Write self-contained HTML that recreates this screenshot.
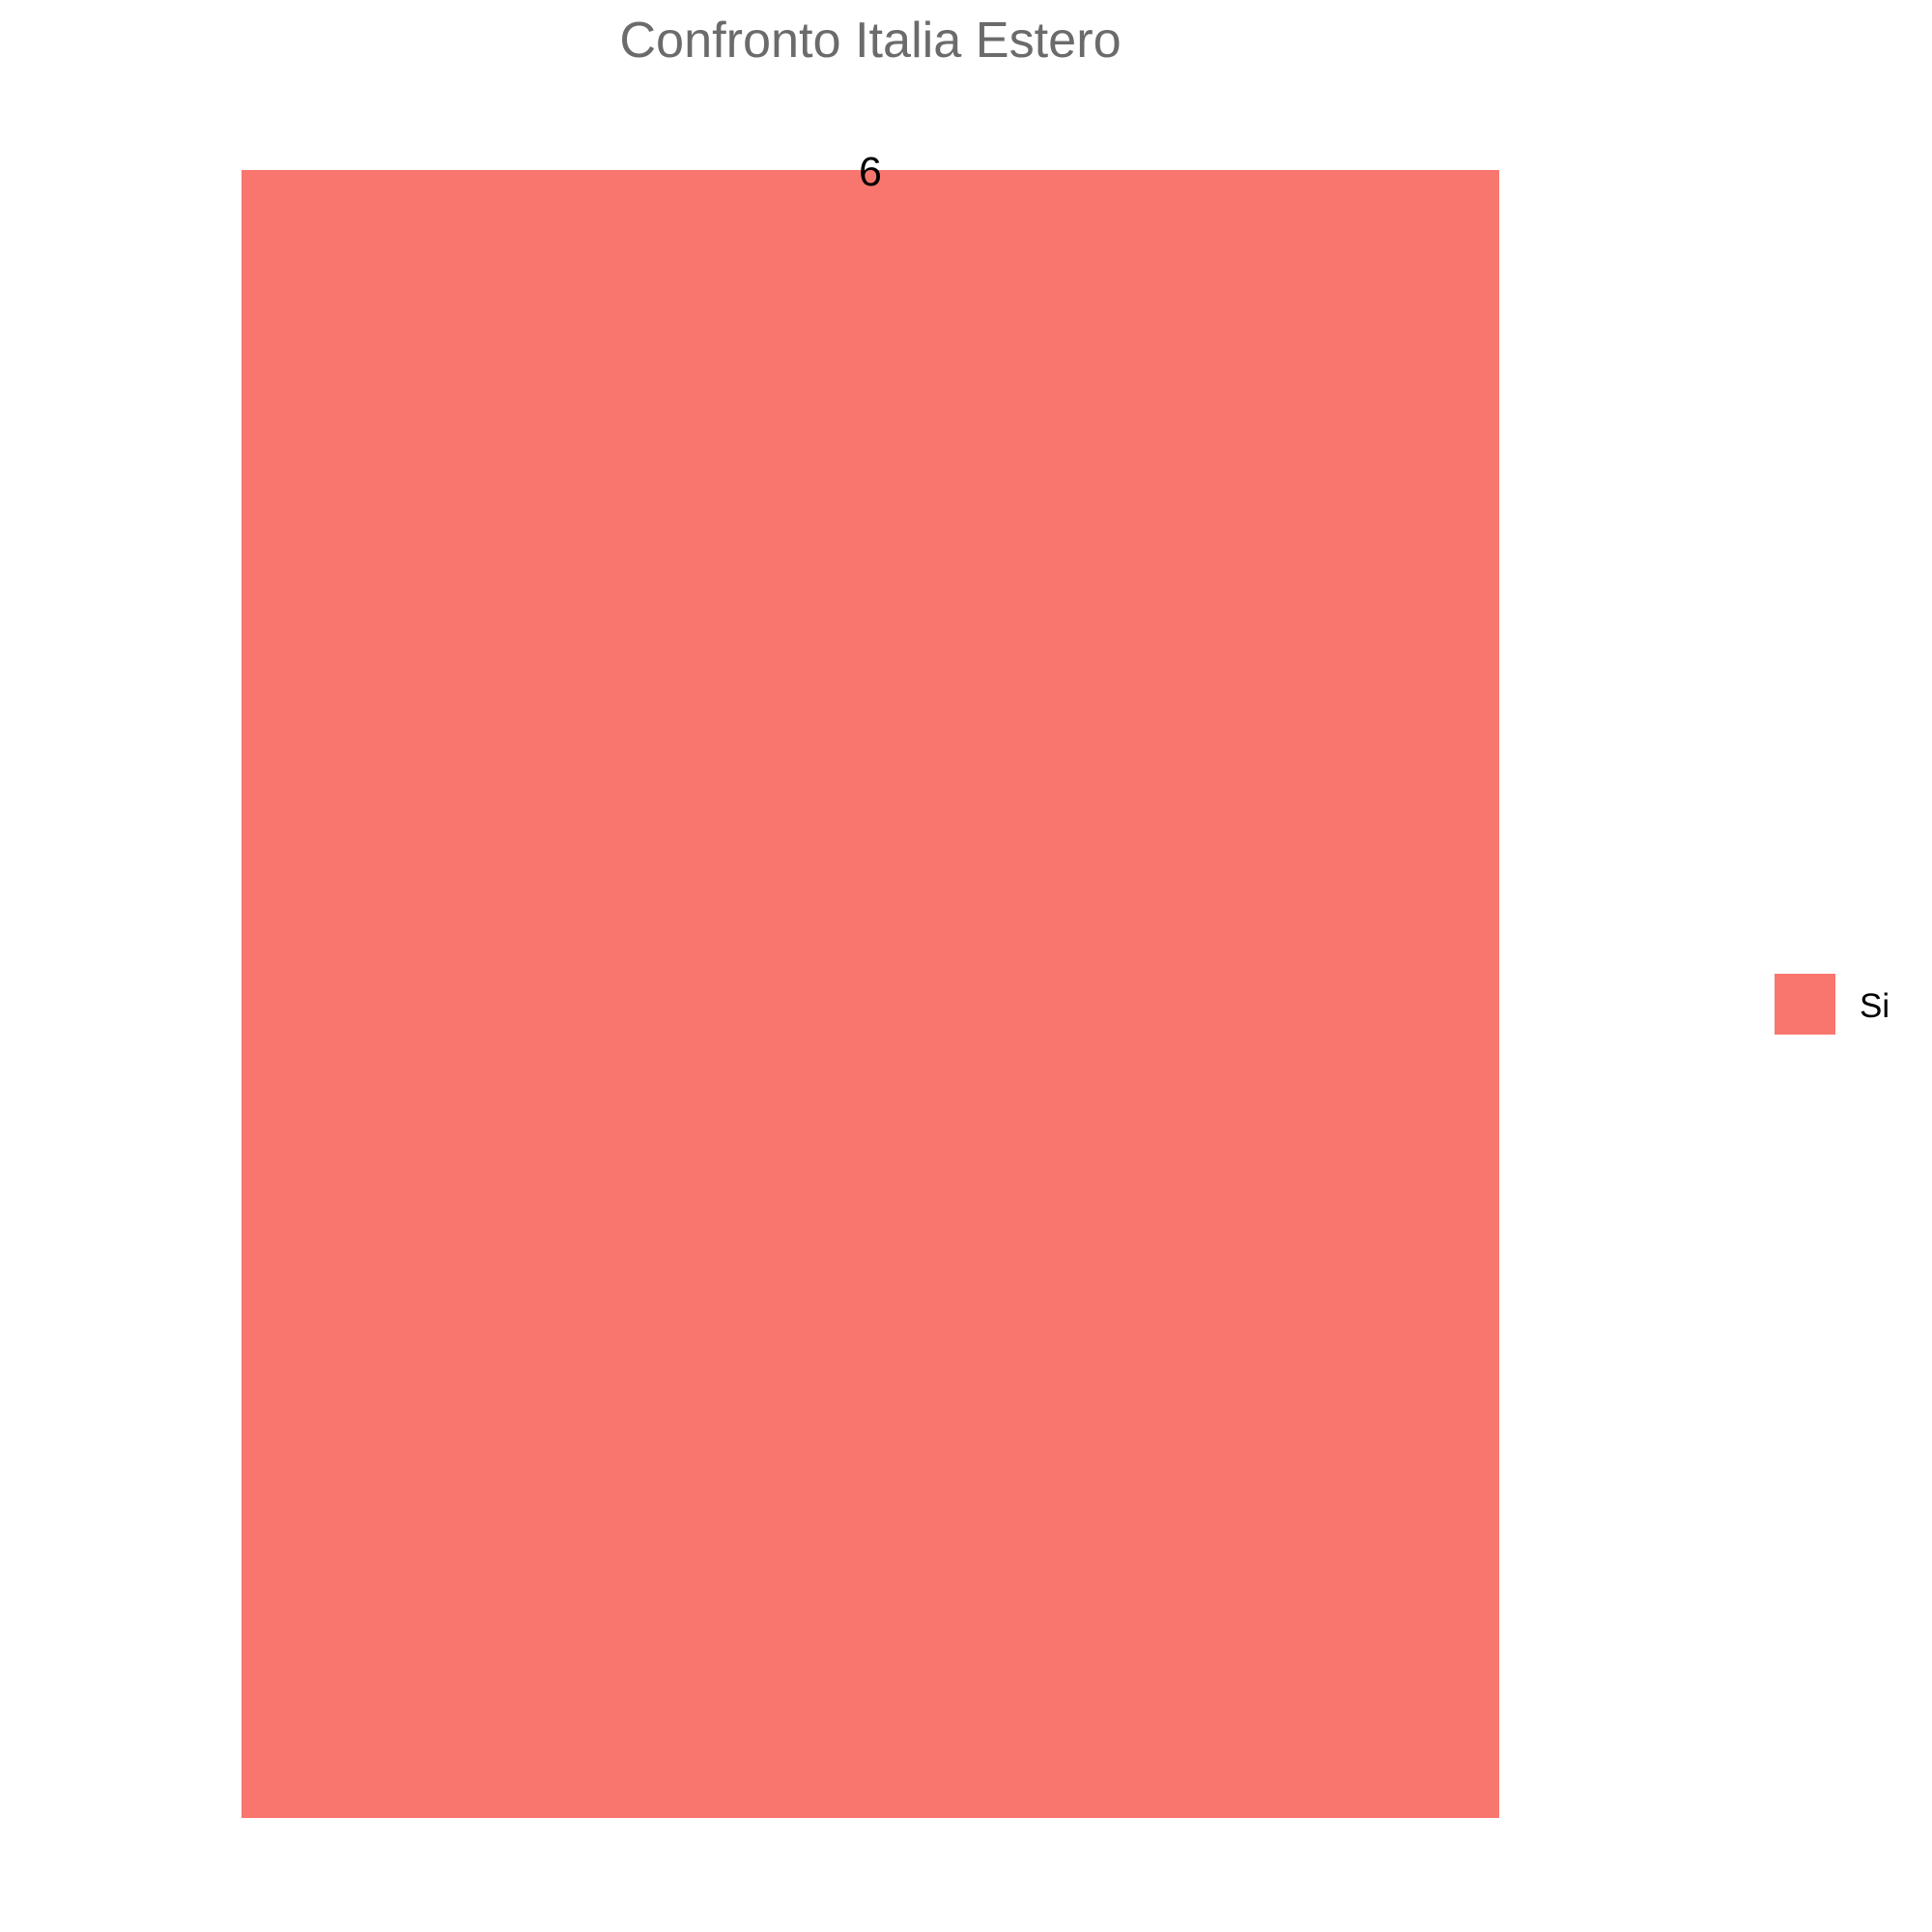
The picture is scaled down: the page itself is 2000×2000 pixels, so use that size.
<!DOCTYPE html>
<html lang="it">
<head>
<meta charset="utf-8">
<title>Confronto Italia Estero</title>
<style>
  html, body { margin: 0; padding: 0; background: #ffffff; }
  #chart { display: block; width: 2000px; height: 2000px; }
  text { font-family: "Liberation Sans", Arial, Helvetica, sans-serif; }
</style>
</head>
<body>
<svg id="chart" xmlns="http://www.w3.org/2000/svg" width="2000" height="2000" viewBox="0 0 2000 2000">
  <rect x="0" y="0" width="2000" height="2000" fill="#ffffff"/>
  <text id="title" x="901" y="59" font-size="52.2" fill="#6b6b6b" text-anchor="middle">Confronto Italia Estero</text>
  <g id="bars"></g>
  <g id="labels"></g>
  <g id="legend"></g>
</svg>
<script>
const categories = ["Si"];
const seriesValues = [6];
const valueLabels = ["6"];

const NS = "http://www.w3.org/2000/svg";
const plot = { left: 250, right: 1552, top: 176, bottom: 1882 };
const barColor = "#f8766d";
const yMax = Math.max.apply(null, seriesValues);

function yScale(v) {
  return plot.bottom - (v / yMax) * (plot.bottom - plot.top);
}
function bandLeft(i) {
  return plot.left + i * (plot.right - plot.left) / categories.length;
}
function bandWidth() {
  return (plot.right - plot.left) / categories.length;
}

const barsGroup = document.getElementById("bars");
const labelsGroup = document.getElementById("labels");
const legendGroup = document.getElementById("legend");

categories.forEach(function (cat, i) {
  const rect = document.createElementNS(NS, "rect");
  
  
  rect.setAttribute("x", bandLeft(i));
  rect.setAttribute("y", yScale(seriesValues[i]));
  rect.setAttribute("width", bandWidth());
  rect.setAttribute("height", yScale(0) - yScale(seriesValues[i]));
  rect.setAttribute("fill", barColor);
  barsGroup.appendChild(rect);

  const label = document.createElementNS(NS, "text");
  
  
  label.setAttribute("x", bandLeft(i) + bandWidth() / 2);
  label.setAttribute("y", yScale(seriesValues[i]) + 16);
  label.setAttribute("font-size", "43");
  label.setAttribute("fill", "#000000");
  label.setAttribute("text-anchor", "middle");
  label.textContent = valueLabels[i];
  labelsGroup.appendChild(label);

  const swatch = document.createElementNS(NS, "rect");
  
  
  swatch.setAttribute("x", 1837);
  swatch.setAttribute("y", 1008 + i * 63);
  swatch.setAttribute("width", 63);
  swatch.setAttribute("height", 63);
  swatch.setAttribute("fill", barColor);
  legendGroup.appendChild(swatch);

  const entry = document.createElementNS(NS, "text");
  
  
  entry.setAttribute("x", 1925);
  entry.setAttribute("y", 1053 + i * 63);
  entry.setAttribute("font-size", "35");
  entry.setAttribute("fill", "#000000");
  entry.textContent = cat;
  legendGroup.appendChild(entry);
});
</script>
</body>
</html>
